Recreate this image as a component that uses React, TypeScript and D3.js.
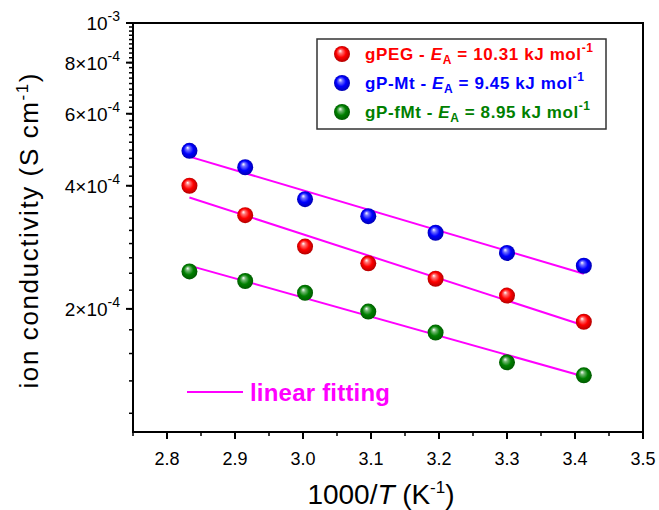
import * as d3 from "d3";

// 1000/T values (K^-1)
const invT = [2.833, 2.915, 3.003, 3.096, 3.195, 3.3, 3.413];

// ion conductivity (S cm^-1)
const gPEG = [4.0e-4, 3.39e-4, 2.84e-4, 2.585e-4, 2.37e-4, 2.155e-4, 1.86e-4];
const gPMt = [4.87e-4, 4.44e-4, 3.71e-4, 3.37e-4, 3.07e-4, 2.74e-4, 2.55e-4];
const gPfMt = [2.47e-4, 2.34e-4, 2.19e-4, 1.97e-4, 1.75e-4, 1.48e-4, 1.376e-4];

const seriesNames = ["gPEG", "gP-Mt", "gP-fMt"];
const seriesEa = ["10.31", "9.45", "8.95"];
const seriesColors = ["#ff0000", "#0000ff", "#008000"];
const seriesValues = [gPEG, gPMt, gPfMt];
const legendWidths = [228, 219, 225];

const xTicks = [2.8, 2.9, 3.0, 3.1, 3.2, 3.3, 3.4, 3.5];
const yMajor = [2e-4, 4e-4, 6e-4, 8e-4, 1e-3];
const yMajorMant = ["2", "4", "6", "8", ""];

const width = 659;
const height = 510;
const margin = { left: 133, right: 16, top: 23, bottom: 78 };

const x = d3.scaleLinear().domain([2.75, 3.5]).range([margin.left, width - margin.right]);
const y = d3.scaleLog().domain([1e-4, 1e-3]).range([height - margin.bottom, margin.top]);

// Origin style minor ticks: 8 between each 2e-4 step
const yMinor = d3.range(0, 41).map((i) => (10 / 9 + (i * 2) / 9) * 1e-4).filter((v) => v <= 1e-3 + 1e-12);
const xMinor = d3.range(2.75, 3.5, 0.1);

const fit = (vals: number[]) => {
  const ly = vals.map((v) => Math.log10(v));
  const mx = d3.mean(invT)!;
  const my = d3.mean(ly)!;
  const sxy = d3.sum(invT, (t, i) => (t - mx) * (ly[i] - my));
  const sxx = d3.sum(invT, (t) => (t - mx) ** 2);
  const b = sxy / sxx;
  const a = my - b * mx;
  const x0 = invT[0];
  const x1 = invT[invT.length - 1];
  return [
    [x0, Math.pow(10, a + b * x0)],
    [x1, Math.pow(10, a + b * x1)],
  ];
};

const fitLine = d3
  .line<number[]>()
  .x((d) => x(d[0]))
  .y((d) => y(d[1]));

const font = "Arial, 'Liberation Sans', sans-serif";

const Ball = ({ cx, cy, i }: { cx: number; cy: number; i: number }) => (
  <circle cx={cx} cy={cy} r={8} fill={`url(#ball${i})`} />
);

export default function App() {
  const bottom = height - margin.bottom;
  const left = margin.left;
  return (
    <div style={{ position: "absolute", left: 0, top: 0 }}>
      <svg width={width} height={height} style={{ display: "block", background: "#fff" }}>
        <defs>
          {seriesColors.map((c, i) => (
            <radialGradient key={i} id={`ball${i}`} cx="0.5" cy="0.5" r="0.55" fx="0.38" fy="0.3">
              <stop offset="0" stopColor="#ffffff" />
              <stop offset="0.22" stopColor={d3.interpolateRgb("#ffffff", c)(0.55)} />
              <stop offset="0.55" stopColor={c} />
              <stop offset="1" stopColor={d3.color(c)!.darker(1.2).formatHex()} />
            </radialGradient>
          ))}
        </defs>

        {/* frame */}
        <rect
          x={left}
          y={margin.top}
          width={width - margin.right - left}
          height={bottom - margin.top}
          fill="none"
          stroke="#000"
          strokeWidth={2}
        />

        {/* y ticks */}
        {yMinor.map((v, i) => (
          <line key={`ym${i}`} x1={left - 4} x2={left} y1={y(v)} y2={y(v)} stroke="#000" strokeWidth={1.5} />
        ))}
        {yMajor.map((v, i) => (
          <g key={`yM${i}`}>
            <line x1={left - 7} x2={left} y1={y(v)} y2={y(v)} stroke="#000" strokeWidth={2} />
            <text x={left - 13} y={y(v) + 7} textAnchor="end" fontFamily={font} fontSize={19} fill="#000">
              {yMajorMant[i] ? `${yMajorMant[i]}×10` : "10"}
              <tspan dy={-9} fontSize={14}>
                {yMajorMant[i] ? "-4" : "-3"}
              </tspan>
            </text>
          </g>
        ))}

        {/* x ticks */}
        {xMinor.map((v, i) => (
          <line key={`xm${i}`} x1={x(v)} x2={x(v)} y1={bottom} y2={bottom + 4} stroke="#000" strokeWidth={1.5} />
        ))}
        {xTicks.map((v, i) => (
          <g key={`xM${i}`}>
            <line x1={x(v)} x2={x(v)} y1={bottom} y2={bottom + 7} stroke="#000" strokeWidth={2} />
            <text x={x(v)} y={bottom + 33} textAnchor="middle" fontFamily={font} fontSize={18} fill="#000">
              {v.toFixed(1)}
            </text>
          </g>
        ))}

        {/* axis titles */}
        <text
          transform="translate(38,231) rotate(-90)"
          textAnchor="middle"
          fontFamily={font}
          fontSize={26}
          fill="#000"
          textLength={315}
          lengthAdjust="spacing"
        >
          ion conductivity (S cm
          <tspan dy={-10} fontSize={17}>
            -1
          </tspan>
          <tspan dy={10}>)</tspan>
        </text>
        <text
          x={381}
          y={504}
          textAnchor="middle"
          fontFamily={font}
          fontSize={28}
          fill="#000"
          textLength={147}
          lengthAdjust="spacing"
        >
          1000/<tspan fontStyle="italic">T</tspan> (K
          <tspan dy={-11} fontSize={17}>
            -1
          </tspan>
          <tspan dy={11}>)</tspan>
        </text>

        {/* fit lines */}
        {seriesValues.map((vals, i) => (
          <path key={`f${i}`} d={fitLine(fit(vals))!} fill="none" stroke="#ff00ff" strokeWidth={2} />
        ))}

        {/* points */}
        {seriesValues.map((vals, i) =>
          vals.map((v, j) => <Ball key={`p${i}-${j}`} cx={x(invT[j])} cy={y(v)} i={i} />)
        )}

        {/* legend */}
        <rect x={317} y={39} width={289} height={90} fill="#fff" stroke="#333" strokeWidth={1.5} />
        {seriesNames.map((n, i) => (
          <g key={`l${i}`}>
            <Ball cx={342} cy={54 + i * 29} i={i} />
            <text
              x={365}
              y={60 + i * 29}
              fontFamily={font}
              fontSize={17}
              fontWeight="bold"
              fill={seriesColors[i]}
              textLength={legendWidths[i]}
              lengthAdjust="spacing"
            >
              {n} - <tspan fontStyle="italic">E</tspan>
              <tspan dy={4} fontSize={12}>
                A
              </tspan>
              <tspan dy={-4}> = {seriesEa[i]} kJ mol</tspan>
              <tspan dy={-8} fontSize={12}>
                -1
              </tspan>
            </text>
          </g>
        ))}

        {/* linear fitting legend */}
        <line x1={187} x2={243} y1={392} y2={392} stroke="#ff00ff" strokeWidth={2} />
        <text
          x={250}
          y={401}
          fontFamily={font}
          fontSize={24}
          fontWeight="bold"
          fill="#ff00ff"
          textLength={140}
          lengthAdjust="spacing"
        >
          linear fitting
        </text>
      </svg>
    </div>
  );
}
